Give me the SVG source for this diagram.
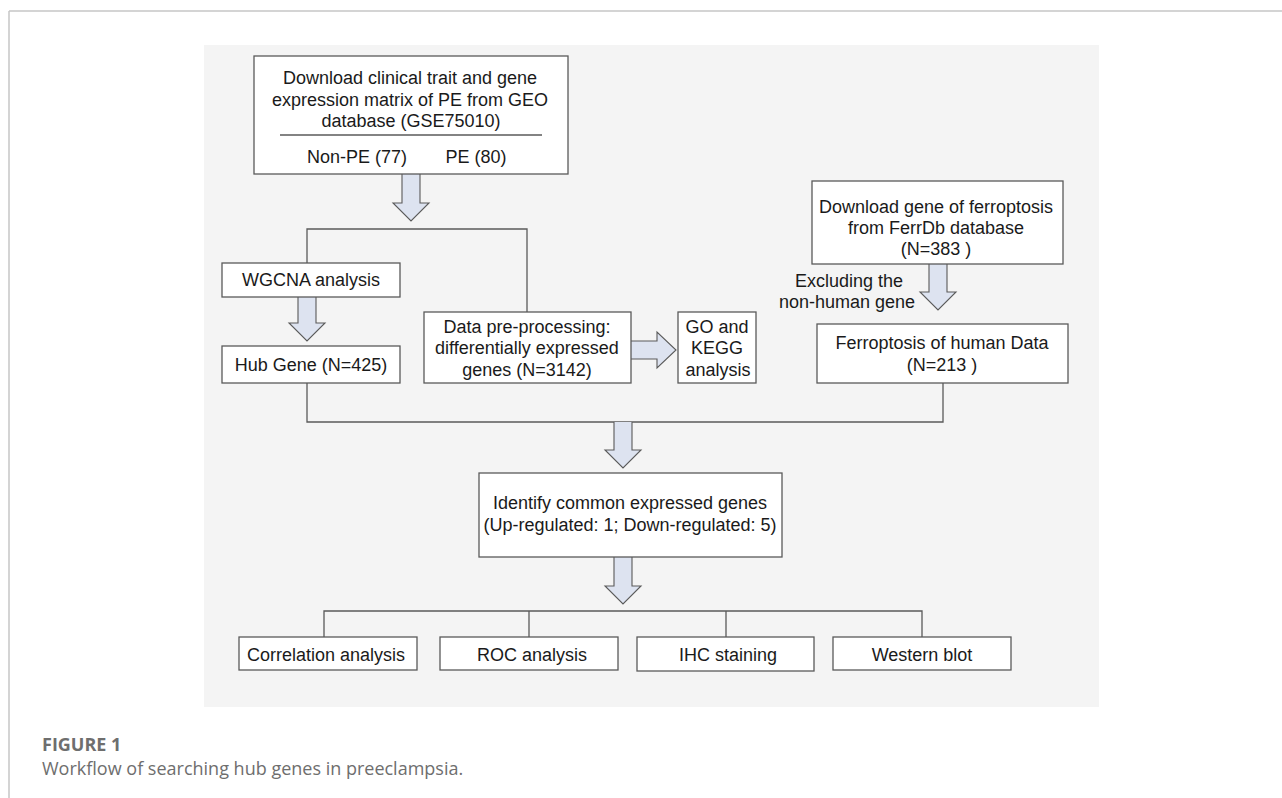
<svg xmlns="http://www.w3.org/2000/svg" width="1282" height="798" viewBox="0 0 1282 798">
<defs>
<style>
.frame{stroke:#c6c6c6;stroke-width:1.5;fill:none}
.box{fill:#ffffff;stroke:#5a5a5a;stroke-width:1.3}
.t{font-family:"Liberation Sans",Arial,sans-serif;font-size:18px;fill:#1a1a1a;text-anchor:middle}
.ln{stroke:#5a5a5a;stroke-width:1.3;fill:none}
.arr{fill:#dde3f0;stroke:#5a5a5a;stroke-width:1.1;stroke-linejoin:miter}
.cap{font-family:"Open Sans","Noto Sans",sans-serif;font-size:18px;fill:#6e6e6e}
</style>
</defs>
<rect x="0" y="0" width="1282" height="798" fill="#ffffff"/>
<line class="frame" x1="9" y1="11" x2="1282" y2="11"/>
<line class="frame" x1="9" y1="11" x2="9" y2="798"/>
<rect x="204" y="45" width="895" height="662" fill="#f4f4f4"/>

<g id="connectors">
<polyline class="ln" points="307,263 307,229 527,229 527,312"/>
<polyline class="ln" points="307,383 307,422 943,422 943,383"/>
<polyline class="ln" points="324,637 324,611 922,611 922,637"/>
<line class="ln" x1="529" y1="611" x2="529" y2="637"/>
<line class="ln" x1="726" y1="611" x2="726" y2="637"/>
<path class="arr" d="M402,174 V203 H393 L411,221 L429,203 H420 V174"/>
<path class="arr" d="M298,297 V323 H289 L307,341 L325,323 H316 V297"/>
<path class="arr" d="M929,264 V292 H920 L938,310 L956,292 H947 V264"/>
<path class="arr" d="M631,341 H657 V332 L676,350 L657,368 V359 H631"/>
<path class="arr" d="M614,422 V450 H605 L623,468 L641,450 H632 V422"/>
<path class="arr" d="M614,557 V586 H605 L623,604 L641,586 H632 V557"/>
</g>

<g id="n-geo">
<rect class="box" x="254" y="56" width="314" height="118"/>
<text class="t" x="410" y="84">Download clinical trait and gene</text>
<text class="t" x="410" y="106">expression matrix of PE from GEO</text>
<text class="t" x="411" y="127">database (GSE75010)</text>
<line class="ln" x1="280" y1="135" x2="542" y2="135"/>
<text class="t" x="357" y="163">Non-PE (77)</text>
<text class="t" x="476" y="163">PE (80)</text>
</g>

<g id="n-wgcna">
<rect class="box" x="222" y="263" width="178" height="34"/>
<text class="t" x="311" y="286">WGCNA analysis</text>
</g>

<g id="n-hub">
<rect class="box" x="222" y="346" width="178" height="37"/>
<text class="t" x="311" y="371">Hub Gene (N=425)</text>
</g>

<g id="n-data">
<rect class="box" x="424" y="312" width="207" height="71"/>
<text class="t" x="527" y="333">Data pre-processing:</text>
<text class="t" x="527" y="354">differentially expressed</text>
<text class="t" x="527" y="376">genes (N=3142)</text>
</g>

<g id="n-go">
<rect class="box" x="678" y="312" width="78" height="71"/>
<text class="t" x="717" y="333">GO and</text>
<text class="t" x="717" y="354">KEGG</text>
<text class="t" x="718" y="376">analysis</text>
</g>

<g id="n-ferrdb">
<rect class="box" x="812" y="181" width="251" height="83"/>
<text class="t" x="936" y="213">Download gene of ferroptosis</text>
<text class="t" x="936" y="234">from FerrDb database</text>
<text class="t" x="936" y="255">(N=383 )</text>
</g>

<g id="lbl-excl">
<text class="t" x="849" y="287">Excluding the</text>
<text class="t" x="847" y="308">non-human gene</text>
</g>

<g id="n-human">
<rect class="box" x="817" y="324" width="251" height="59"/>
<text class="t" x="942" y="349">Ferroptosis of human Data</text>
<text class="t" x="942" y="371">(N=213 )</text>
</g>

<g id="n-common">
<rect class="box" x="479" y="473" width="303" height="84"/>
<text class="t" x="630" y="509">Identify common expressed genes</text>
<text class="t" x="630" y="531">(Up-regulated: 1; Down-regulated: 5)</text>
</g>

<g id="n-corr">
<rect class="box" x="239" y="637" width="178" height="33"/>
<text class="t" x="326" y="661">Correlation analysis</text>
</g>
<g id="n-roc">
<rect class="box" x="440" y="637" width="178" height="33"/>
<text class="t" x="532" y="661">ROC analysis</text>
</g>
<g id="n-ihc">
<rect class="box" x="637" y="637" width="177" height="34"/>
<text class="t" x="728" y="661">IHC staining</text>
</g>
<g id="n-wb">
<rect class="box" x="833" y="637" width="178" height="33"/>
<text class="t" x="922" y="661">Western blot</text>
</g>

<g id="caption">
<text class="cap" x="42" y="751" font-weight="bold">FIGURE 1</text>
<text class="cap" x="42" y="775">Workflow of searching hub genes in preeclampsia.</text>
</g>
</svg>
